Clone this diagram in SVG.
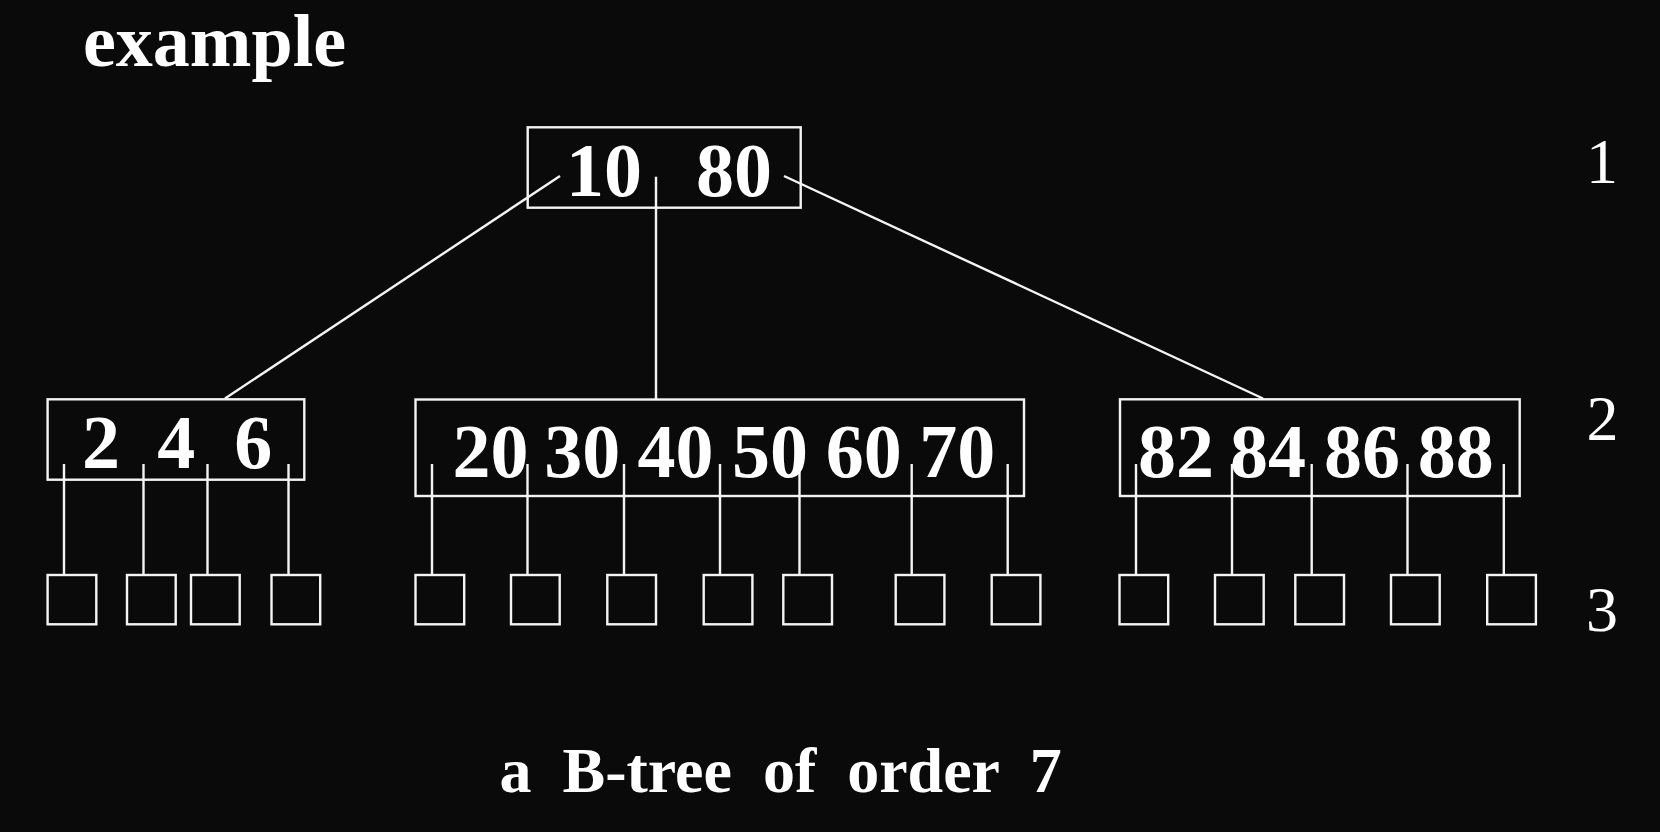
<svg xmlns="http://www.w3.org/2000/svg" width="1660" height="832" viewBox="0 0 1660 832">
<style>
.bg{fill:#0a0a0a}
.box{fill:none;stroke:#f4f4f4;stroke-width:2.4}
.ln{stroke:#f4f4f4;stroke-width:2.4;fill:none}
.key{font-family:"Liberation Serif","Times New Roman",serif;font-weight:bold;font-size:76px;fill:#ffffff;text-anchor:middle}
.lvl{font-family:"Liberation Serif","Times New Roman",serif;font-size:64px;fill:#ffffff;text-anchor:middle}
.title{font-family:"Liberation Serif","Times New Roman",serif;font-weight:bold;fill:#ffffff}
</style>
<rect class="bg" x="0" y="0" width="1660" height="832"/>
<text id="heading" class="title" x="83" y="65.7" font-size="74">example</text>
<g id="connectors">
<line class="ln" x1="560" y1="176" x2="225" y2="398.5"/>
<line class="ln" x1="656" y1="176.7" x2="656" y2="399"/>
<line class="ln" x1="784" y1="176" x2="1263" y2="398.5"/>
<g id="child-pointers">
<line class="ln" x1="64" y1="464" x2="64" y2="575"/>
<line class="ln" x1="143.5" y1="464" x2="143.5" y2="575"/>
<line class="ln" x1="207.5" y1="464" x2="207.5" y2="575"/>
<line class="ln" x1="288.5" y1="464" x2="288.5" y2="575"/>
<line class="ln" x1="432" y1="464" x2="432" y2="575"/>
<line class="ln" x1="527.5" y1="464" x2="527.5" y2="575"/>
<line class="ln" x1="624" y1="464" x2="624" y2="575"/>
<line class="ln" x1="720" y1="464" x2="720" y2="575"/>
<line class="ln" x1="799.5" y1="464" x2="799.5" y2="575"/>
<line class="ln" x1="911.7" y1="464" x2="911.7" y2="575"/>
<line class="ln" x1="1007.7" y1="464" x2="1007.7" y2="575"/>
<line class="ln" x1="1136" y1="464" x2="1136" y2="575"/>
<line class="ln" x1="1232" y1="464" x2="1232" y2="575"/>
<line class="ln" x1="1311.7" y1="464" x2="1311.7" y2="575"/>
<line class="ln" x1="1407.5" y1="464" x2="1407.5" y2="575"/>
<line class="ln" x1="1503.8" y1="464" x2="1503.8" y2="575"/>
</g>
</g>
<g id="root">
<rect class="box" x="527.7" y="127.3" width="273" height="80.4"/>
<text class="key" x="604" y="196">10</text>
<text class="key" x="734" y="196">80</text>
</g>
<g id="node-left">
<rect class="box" x="47.6" y="399.3" width="256.7" height="80.4"/>
<text class="key" x="101" y="468.3">2</text>
<text class="key" x="176.3" y="468.3">4</text>
<text class="key" x="253.3" y="468.3">6</text>
</g>
<g id="node-middle">
<rect class="box" x="415.5" y="399.5" width="608.5" height="96.5"/>
<text class="key" x="490.4" y="476.5">20</text>
<text class="key" x="582.2" y="476.5">30</text>
<text class="key" x="675.4" y="476.5">40</text>
<text class="key" x="770" y="476.5">50</text>
<text class="key" x="863.8" y="476.5">60</text>
<text class="key" x="957.2" y="476.5">70</text>
</g>
<g id="node-right">
<rect class="box" x="1120" y="399.3" width="399.7" height="96.7"/>
<text class="key" x="1176" y="476.5">82</text>
<text class="key" x="1268" y="476.5">84</text>
<text class="key" x="1362" y="476.5">86</text>
<text class="key" x="1455.8" y="476.5">88</text>
</g>
<g id="leaves">
<rect class="box" x="47.6" y="575" width="48.7" height="49.3"/>
<rect class="box" x="127" y="575" width="48.7" height="49.3"/>
<rect class="box" x="191" y="575" width="48.7" height="49.3"/>
<rect class="box" x="271.5" y="575" width="48.7" height="49.3"/>
<rect class="box" x="415.5" y="575" width="48.7" height="49.3"/>
<rect class="box" x="511" y="575" width="48.7" height="49.3"/>
<rect class="box" x="607.3" y="575" width="48.7" height="49.3"/>
<rect class="box" x="703.7" y="575" width="48.7" height="49.3"/>
<rect class="box" x="783.3" y="575" width="48.7" height="49.3"/>
<rect class="box" x="895.7" y="575" width="48.7" height="49.3"/>
<rect class="box" x="991.7" y="575" width="48.7" height="49.3"/>
<rect class="box" x="1119.5" y="575" width="48.7" height="49.3"/>
<rect class="box" x="1215" y="575" width="48.7" height="49.3"/>
<rect class="box" x="1295.3" y="575" width="48.7" height="49.3"/>
<rect class="box" x="1391" y="575" width="48.7" height="49.3"/>
<rect class="box" x="1487.2" y="575" width="48.7" height="49.3"/>
</g>
<g id="levels">
<text class="lvl" x="1602" y="183.3">1</text>
<text class="lvl" x="1602.5" y="440">2</text>
<text class="lvl" x="1602" y="630.5">3</text>
</g>
<text id="caption" class="title" x="499.5" y="791.7" font-size="64" word-spacing="15">a B-tree of order 7</text>
</svg>
